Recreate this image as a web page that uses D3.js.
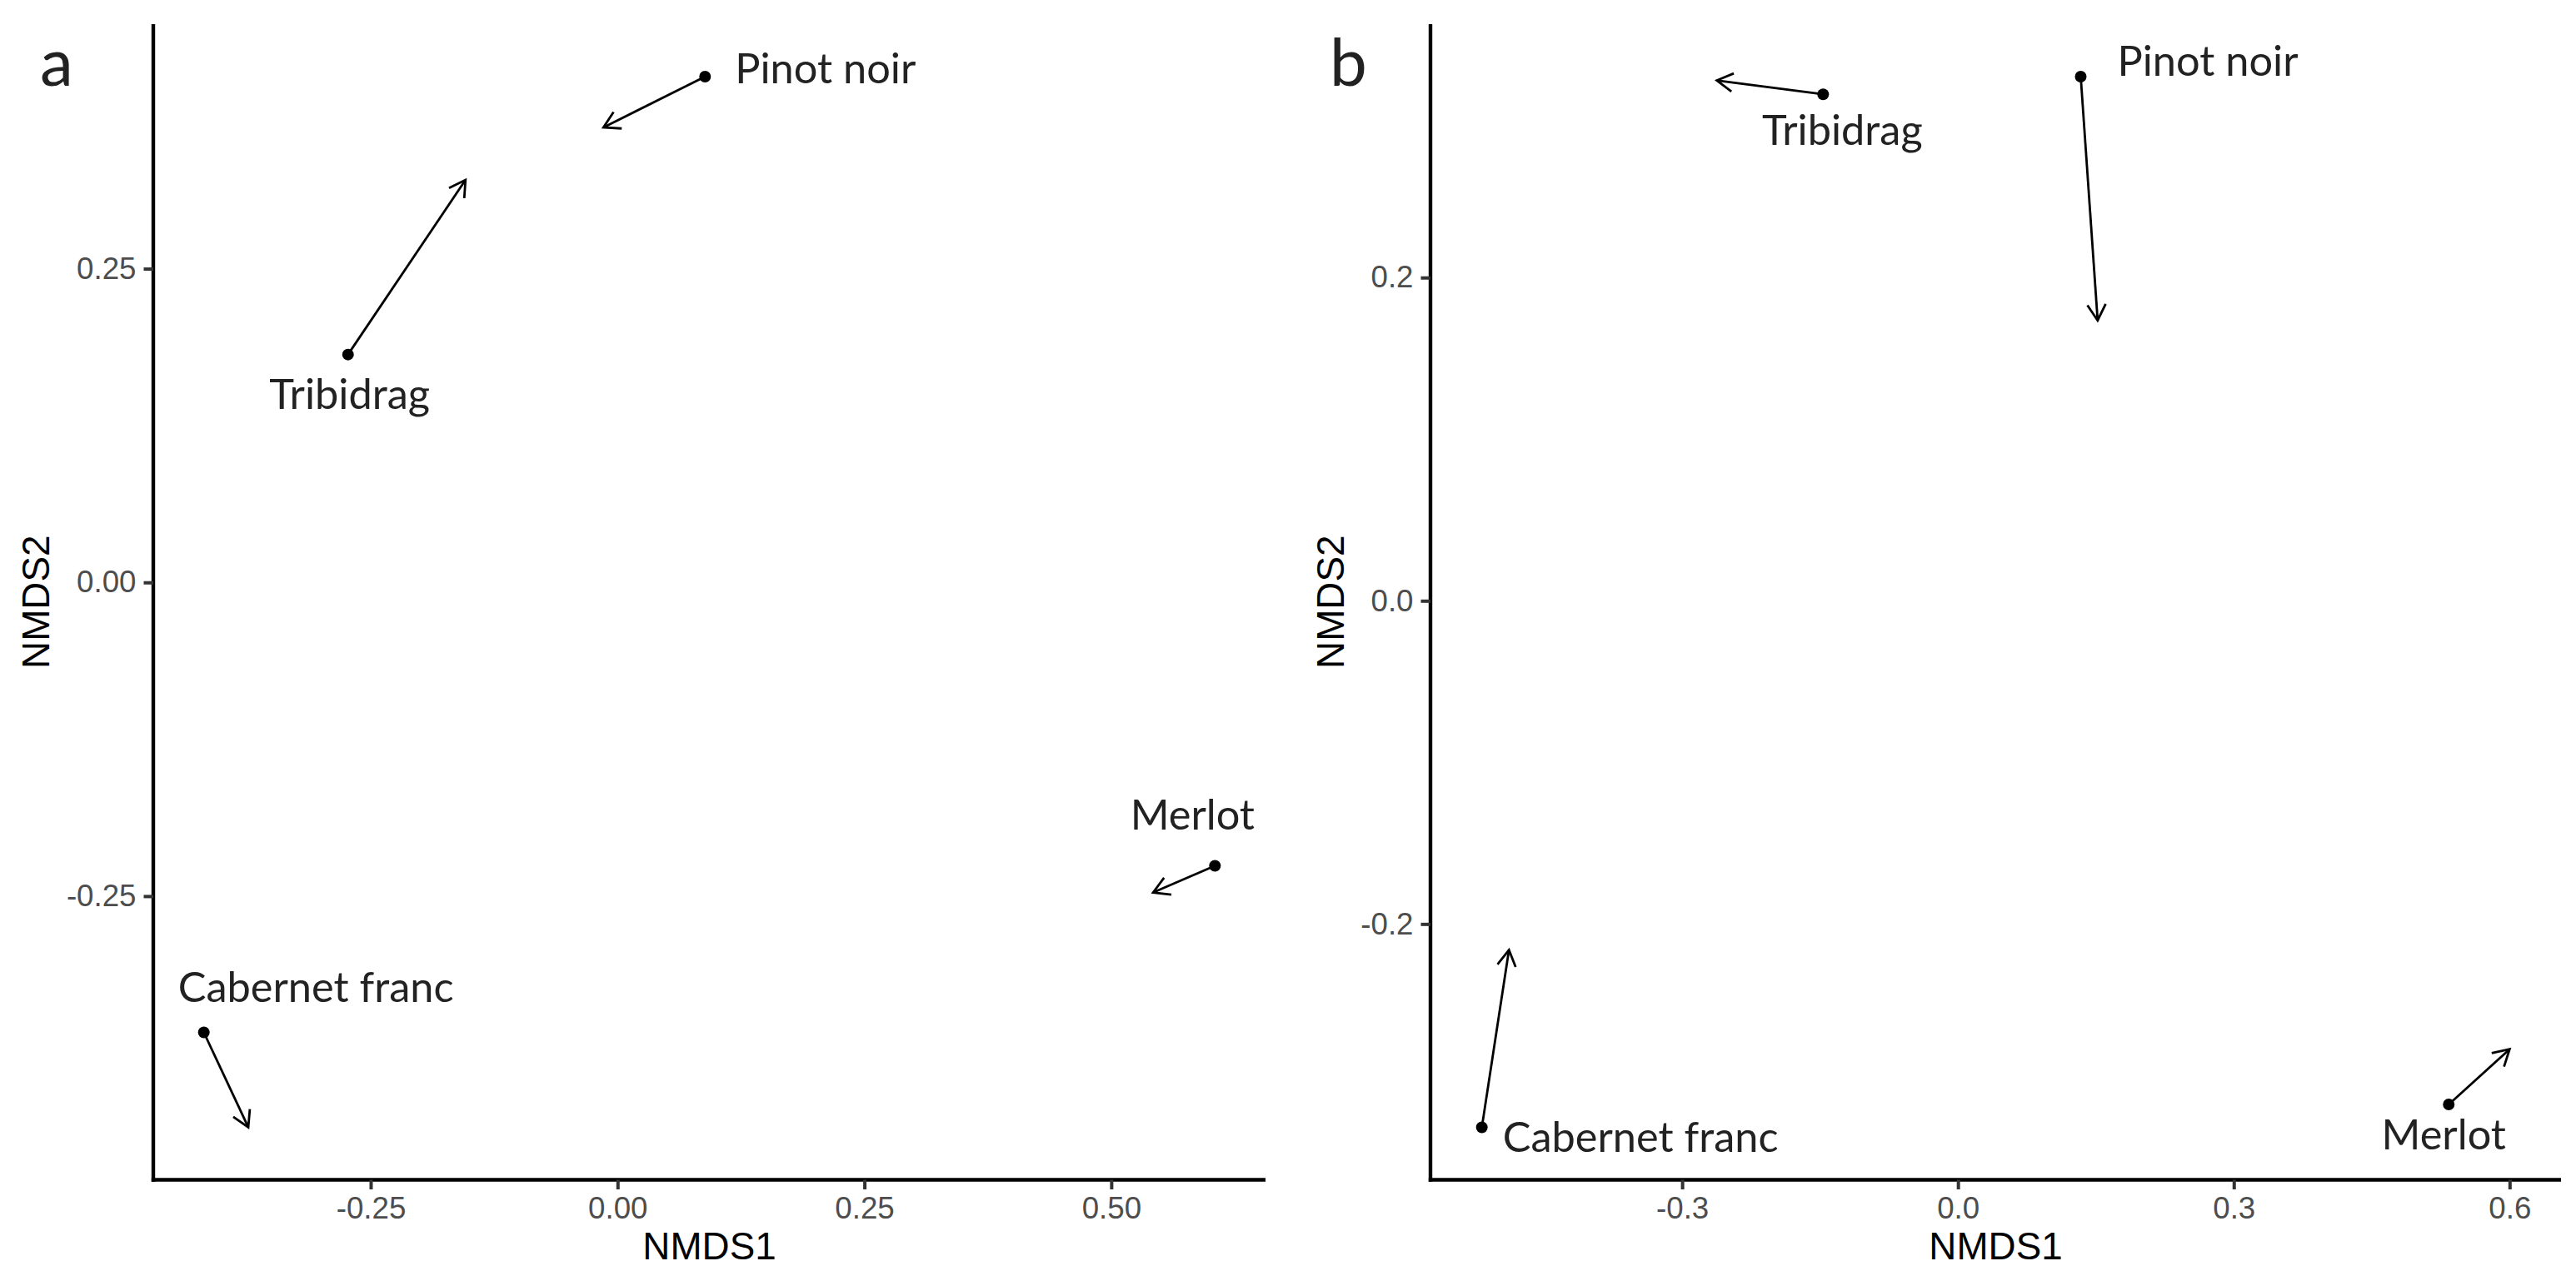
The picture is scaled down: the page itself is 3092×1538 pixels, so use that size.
<!DOCTYPE html>
<html>
<head>
<meta charset="utf-8">
<script src="https://cdn.jsdelivr.net/npm/d3@7/dist/d3.min.js"></script>
<style>
  html, body { margin: 0; padding: 0; background: #ffffff; }
  svg { display: block; }
</style>
</head>
<body>
<svg id="chart" width="3092" height="1538"></svg>
<script>
// ---------------- DATA ----------------
const varieties = ["Pinot noir", "Tribidrag", "Merlot", "Cabernet franc"];

// Panel a: site scores (point) and arrow end
const aPointX = [0.0886, -0.273, 0.605, -0.419];
const aPointY = [0.403, 0.1816, -0.2258, -0.3586];
const aEndX   = [-0.0143, -0.154, 0.5424, -0.374];
const aEndY   = [0.3626, 0.3207, -0.2471, -0.4342];

// Panel b
const bPointX = [0.1335, -0.1467, 0.5338, -0.5179];
const bPointY = [0.3243, 0.3134, -0.3117, -0.3258];
const bEndX   = [0.1519, -0.2623, 0.600, -0.4884];
const bEndY   = [0.1735, 0.3220, -0.2775, -0.2161];

// Ticks
const aTicksX = [-0.25, 0, 0.25, 0.5];
const aTickLabelsX = ["-0.25", "0.00", "0.25", "0.50"];
const aTicksY = [-0.25, 0, 0.25];
const aTickLabelsY = ["-0.25", "0.00", "0.25"];
const bTicksX = [-0.3, 0, 0.3, 0.6];
const bTickLabelsX = ["-0.3", "0.0", "0.3", "0.6"];
const bTicksY = [-0.2, 0, 0.2];
const bTickLabelsY = ["-0.2", "0.0", "0.2"];

const panelTags = ["a", "b"];
const xTitle = "NMDS1";
const yTitle = "NMDS2";

// ---------------- LAYOUT / STYLE ----------------
const layout = {
  a: { left: 184, right: 1519, top: 29, bottom: 1416.5, ytitleX: 59, tagX: 48 },
  b: { left: 1717, right: 3074, top: 29, bottom: 1416.5, ytitleX: 1613, tagX: 1596 }
};
// label placement (pixel offsets from the point)
const labelPlacement = {
  a: [
    { dx: 36, dy: 8, anchor: "start" },
    { dx: 2, dy: 65, anchor: "middle" },
    { dx: -27, dy: -43, anchor: "middle" },
    { dx: -31, dy: -37, anchor: "start" }
  ],
  b: [
    { dx: 44, dy: -1, anchor: "start" },
    { dx: 23, dy: 61, anchor: "middle" },
    { dx: -6, dy: 54, anchor: "middle" },
    { dx: 25, dy: 30, anchor: "start" }
  ]
};

const tickFont = "'Liberation Sans', Arial, Helvetica, sans-serif";
const labelFont = "Lato, 'Open Sans', sans-serif";

const svg = d3.select("#chart");
svg.append("rect").attr("width", 3092).attr("height", 1538).attr("fill", "#ffffff");

function expand(vals) {
  const lo = d3.min(vals), hi = d3.max(vals);
  const pad = (hi - lo) * 0.05;
  return [lo - pad, hi + pad];
}

function drawPanel(key, px, py, ex, ey, ticksX, labsX, ticksY, labsY, tag) {
  const L = layout[key];
  const x = d3.scaleLinear().domain(expand(px.concat(ex))).range([L.left, L.right]);
  const y = d3.scaleLinear().domain(expand(py.concat(ey))).range([L.bottom, L.top]);
  const g = svg.append("g");

  // axes
  const xAxis = d3.axisBottom(x).tickValues(ticksX).tickFormat((d, i) => labsX[i])
    .tickSizeInner(11.5).tickSizeOuter(0).tickPadding(9);
  const yAxis = d3.axisLeft(y).tickValues(ticksY).tickFormat((d, i) => labsY[i])
    .tickSizeInner(11.5).tickSizeOuter(0).tickPadding(9);

  const gx = g.append("g").attr("transform", `translate(0,${L.bottom})`).call(xAxis);
  const gy = g.append("g").attr("transform", `translate(${L.left},0)`).call(yAxis);
  [gx, gy].forEach(ax => {
    ax.select(".domain").attr("stroke", "#000").attr("stroke-width", 4.4);
    ax.selectAll(".tick line").attr("stroke", "#333333").attr("stroke-width", 4);
    ax.selectAll(".tick text").attr("fill", "#4D4D4D")
      .style("font-family", tickFont).style("font-size", "36.7px");
  });
  // extend domain lines so they meet at the corner
  gx.select(".domain").attr("d", `M${L.left - 2.2},0H${L.right}`);
  gy.select(".domain").attr("d", `M0,${L.top}V${L.bottom + 2.2}`);

  // titles
  g.append("text").attr("x", (L.left + L.right) / 2).attr("y", 1512)
    .attr("text-anchor", "middle").style("font-family", tickFont).style("font-size", "45.8px")
    .attr("fill", "#000").text(xTitle);
  g.append("text")
    .attr("transform", `translate(${L.ytitleX},${(L.top + L.bottom) / 2}) rotate(-90)`)
    .attr("text-anchor", "middle").style("font-family", tickFont).style("font-size", "45.8px")
    .attr("fill", "#000").text(yTitle);

  // panel tag
  g.append("text").attr("x", L.tagX).attr("y", 102.6)
    .style("font-family", labelFont).style("font-size", "80px").attr("fill", "#222")
    .text(tag);

  const rows = varieties.map((v, i) => ({ name: v, px: px[i], py: py[i], ex: ex[i], ey: ey[i], lab: labelPlacement[key][i] }));

  // arrows
  const headLen = 22, headAng = Math.PI / 6;
  const ag = g.append("g");
  ag.selectAll("line.seg").data(rows).join("line").attr("class", "seg")
    .attr("x1", d => x(d.px)).attr("y1", d => y(d.py))
    .attr("x2", d => x(d.ex)).attr("y2", d => y(d.ey))
    .attr("stroke", "#000").attr("stroke-width", 2.8);
  ag.selectAll("path.head").data(rows).join("path").attr("class", "head")
    .attr("d", d => {
      const x1 = x(d.px), y1 = y(d.py), x2 = x(d.ex), y2 = y(d.ey);
      const a = Math.atan2(y2 - y1, x2 - x1);
      const p1 = [x2 - headLen * Math.cos(a - headAng), y2 - headLen * Math.sin(a - headAng)];
      const p2 = [x2 - headLen * Math.cos(a + headAng), y2 - headLen * Math.sin(a + headAng)];
      return `M${p1[0]},${p1[1]}L${x2},${y2}L${p2[0]},${p2[1]}`;
    })
    .attr("fill", "none").attr("stroke", "#000").attr("stroke-width", 2.8)
    .attr("stroke-linejoin", "miter");

  // points
  g.selectAll("circle.pt").data(rows).join("circle").attr("class", "pt")
    .attr("cx", d => x(d.px)).attr("cy", d => y(d.py)).attr("r", 7).attr("fill", "#000");

  // labels
  g.selectAll("text.lab").data(rows).join("text").attr("class", "lab")
    .attr("x", d => x(d.px) + d.lab.dx).attr("y", d => y(d.py) + d.lab.dy)
    .attr("text-anchor", d => d.lab.anchor)
    .style("font-family", labelFont).style("font-size", "50.5px").attr("fill", "#222")
    .text(d => d.name);
}

drawPanel("a", aPointX, aPointY, aEndX, aEndY, aTicksX, aTickLabelsX, aTicksY, aTickLabelsY, panelTags[0]);
drawPanel("b", bPointX, bPointY, bEndX, bEndY, bTicksX, bTickLabelsX, bTicksY, bTickLabelsY, panelTags[1]);
</script>
</body>
</html>
